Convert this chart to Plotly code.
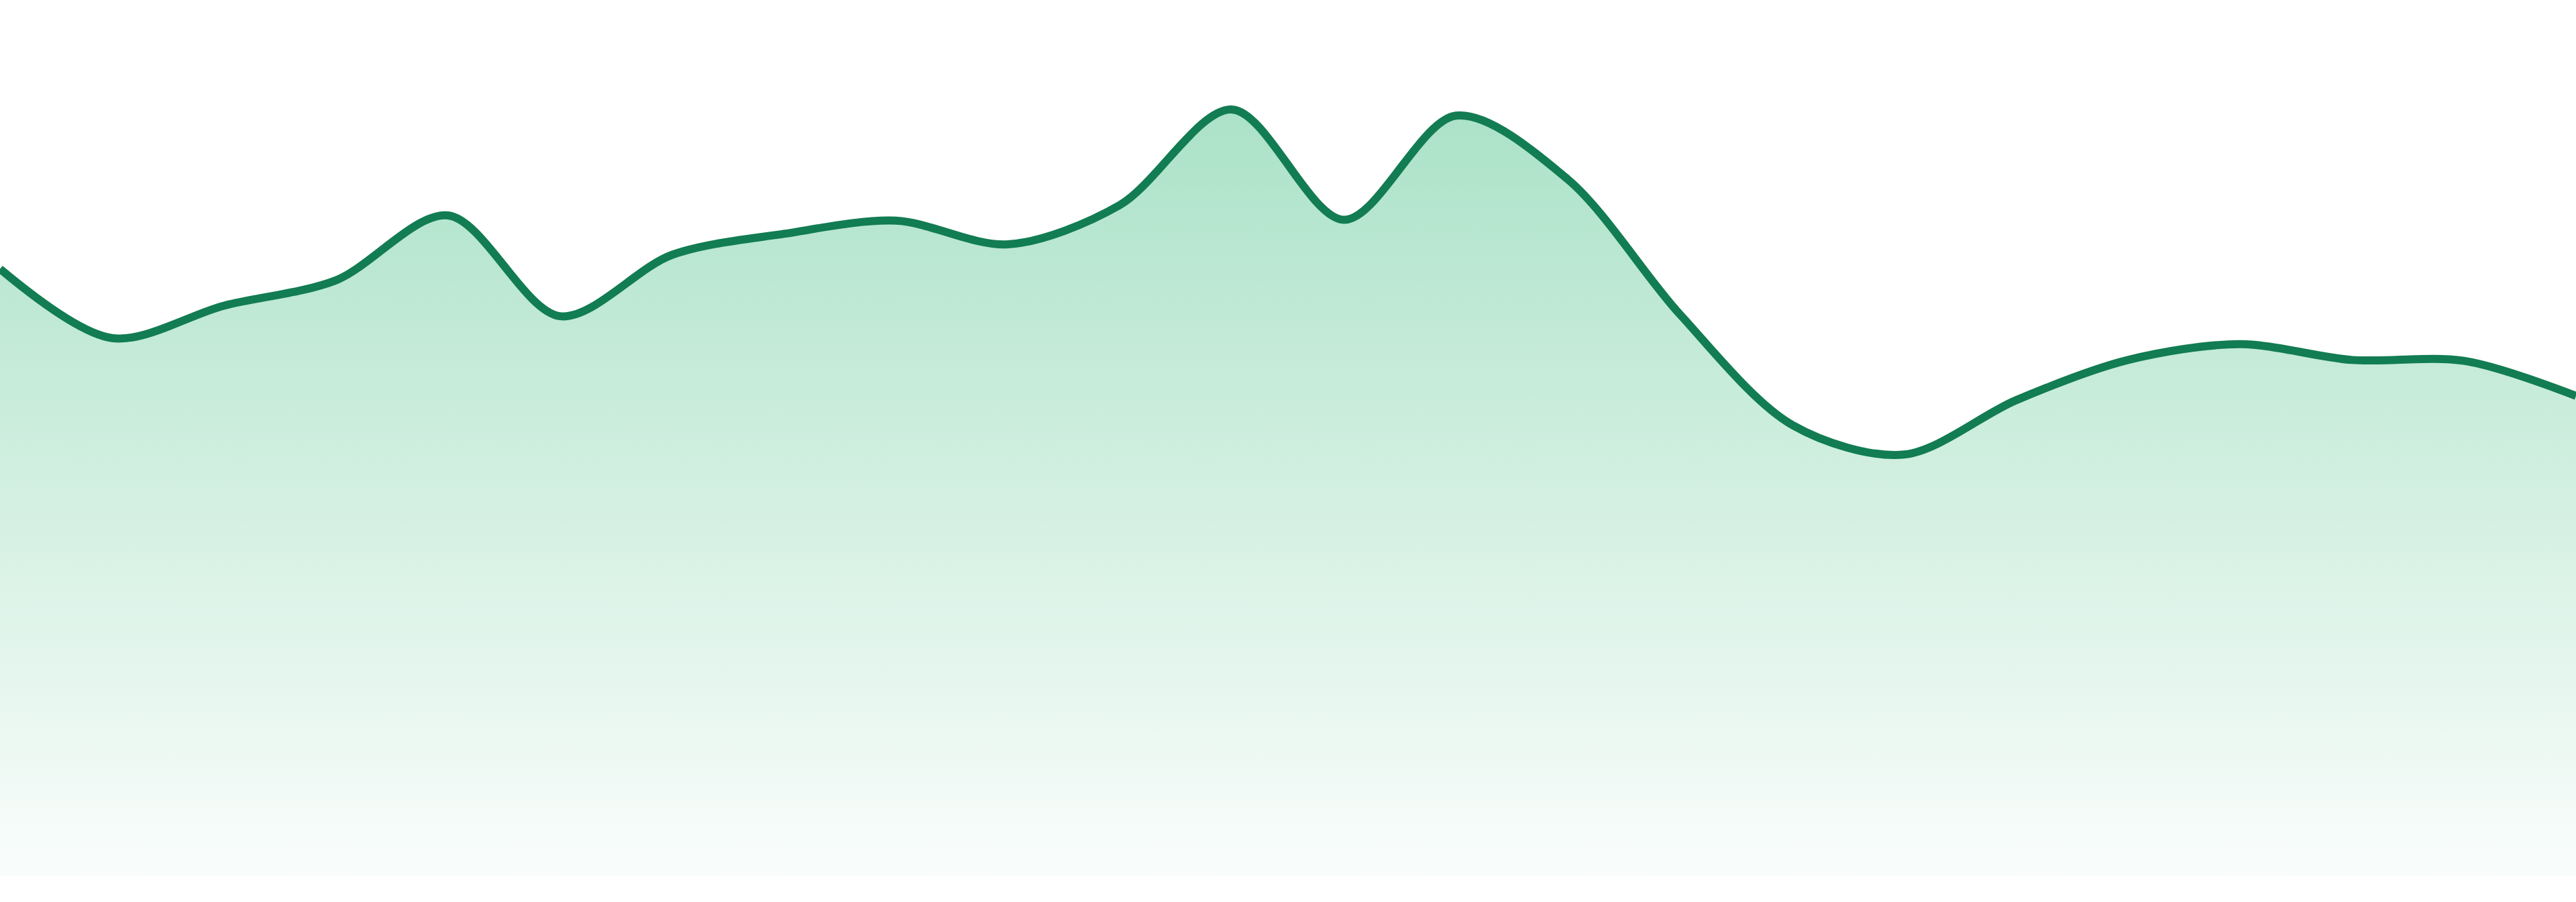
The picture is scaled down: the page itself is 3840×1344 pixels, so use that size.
import plotly.graph_objects as go

# data
periods = list(range(24))
values = [69.3, 61.4, 65.1, 68.0, 75.4, 63.9, 70.9, 73.3, 74.8, 72.1, 76.6, 87.5,
          74.9, 86.8, 79.5, 64.1, 51.5, 48.1, 54.3, 58.9, 60.7, 58.9, 58.8, 54.8]

line_color = "#127c52"

trace = go.Scatter(
    x=periods,
    y=values,
    mode="lines",
    line=dict(color=line_color, width=12, shape="spline", smoothing=0.9),
    fill="tozeroy",
    fillgradient=dict(
        type="vertical",
        colorscale=[[0, "#fafdfc"], [1, "#abe2c7"]],
    ),
    hoverinfo="skip",
)

layout = go.Layout(
    width=3840,
    height=1344,
    margin=dict(l=0, r=0, t=0, b=39),
    paper_bgcolor="white",
    plot_bgcolor="white",
    showlegend=False,
    xaxis=dict(visible=False, range=[0, 23], fixedrange=True),
    yaxis=dict(visible=False, range=[0, 100], fixedrange=True),
)

fig = go.Figure(data=[trace], layout=layout)
# drop the default page margin so the chart sits flush with the window
fig.write_html("out.html", config={"displayModeBar": False},
               post_script="document.body.style.margin='0';document.body.style.overflow='hidden';")
